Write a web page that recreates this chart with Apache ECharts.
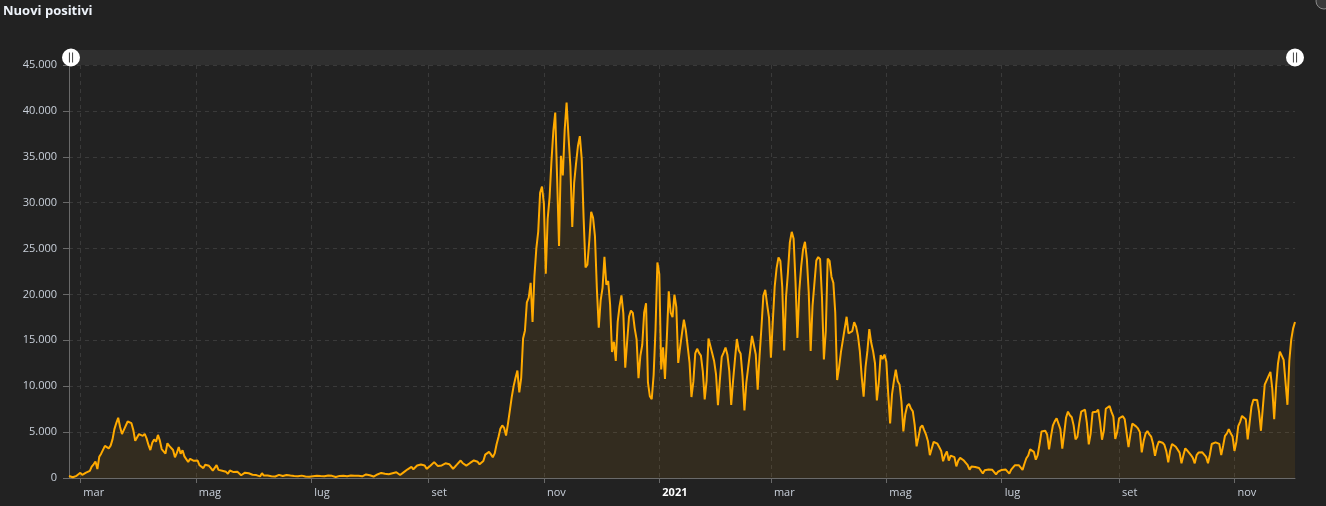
<!DOCTYPE html>
<html><head><meta charset="utf-8">
<script src="https://cdn.jsdelivr.net/npm/echarts@6/dist/echarts.min.js"></script>
<style>html,body{margin:0;padding:0;background:#222222;}#c{width:1326px;height:506px;}</style>
</head><body><div id="c"></div>
<script>
// Nuovi positivi giornalieri, dal 24 feb 2020 al 3 dic 2021 (one value per day)
const startDate = '2020-02-24';
const feb2020 = [221,93,78,250,238,240];
const mar2020 = [566,342,466,587,769,778,1247,1492,1797,977,2313,2651,2547,3497,3590,3233,3526,4207,5322,5986,6557,5560,4789,5249,5210,6153,5959,5974,5217,4050,4053];
const apr2020 = [4782,4668,4585,4805,4316,3599,3039,3836,4204,3951,4694,4092,3153,2972,2667,3786,3493,3491,3047,2256,2729,3370,2646,3021,2357,2324,1739,2091,2086,1872];
const may2020 = [1965,1900,1389,1221,1075,1444,1401,1327,1083,802,744,1402,888,992,789,875,675,451,813,665,642,652,669,531,300,397,584,593,516,416,355];
const jun2020 = [178,318,321,177,518,270,197,280,283,202,379,163,346,338,301,210,329,333,251,262,224,218,122,190,296,259,175,174,126,142];
const jul2020 = [187,201,223,235,192,208,138,193,229,276,188,234,169,114,162,230,233,249,219,190,129,282,306,252,275,255,170,181,289,386,379];
const aug2020 = [295,239,159,190,384,402,552,347,463,259,412,481,523,574,629,479,320,403,642,845,947,1071,1210,953,878,1367,1411,1462,1444,1365,996];
const sep2020 = [978,1326,1397,1733,1695,1297,1108,1370,1434,1597,1616,1501,1458,1008,1229,1452,1585,1907,1638,1587,1350,1392,1640,1786,1912,1869,1766,1494,1648,1851];
const oct2020 = [2548,2499,2844,2578,2257,2677,3678,4458,5372,5724,5456,4619,5901,7332,8804,10010,10925,11705,9338,10874,15199,16079,19143,19644,21273,17012,21994,24991,26831,31084,31758];
const nov2020 = [29907,22253,28244,30550,34505,37809,39811,32616,25271,35098,32961,37978,40902,37255,33979,27354,32191,34283,36176,37242,34767,28337,22930,23232,25853,29003,28352,26323,20648,16377];
const dec2020 = [19350,20709,24099,21052,21457,18887,13720,14842,12756,16999,18727,19903,17938,12030,14844,17572,18236,17992,16308,15104,10872,13318,14522,18040,19037,10407,8913,8585,11212,16202,23477];
const jan2021 = [22211,11831,14245,10800,15378,20331,18020,17533,19978,18627,12532,14242,15774,17246,16146,16310,12545,8824,10497,13571,14078,13633,13331,11629,8561,10593,15204,14372,13574,12715,11252];
const feb2021 = [7925,10630,13189,13659,14218,13442,11641,7970,10630,12956,15146,13908,13532,11068,7351,10386,12074,13762,15479,15370,13452,9630,13314,16424,19886,20499,18916,17455];
const mar2021 = [13114,17083,20884,22865,24036,23641,20765,13902,19749,22409,25673,26824,26062,21315,15267,20396,23059,24935,25735,23832,20159,13846,18765,21267,23696,24076,23839,19611,12916,16017,23904];
const apr2021 = [23649,21932,21261,18025,10680,12000,13708,15000,16300,17567,15746,15700,16000,16974,16500,15500,13800,11000,8864,12074,13844,16232,14761,13817,12500,8444,10404,13385,12965,13446];
const may2021 = [12680,9148,5948,9116,10585,11807,10554,10176,8292,5080,6946,7852,8085,7567,7264,5753,3455,4452,5506,5741,5218,4717,3995,2490,3224,3937,4147,3738,3351,2949,1820];
const jun2021 = [2483,2897,1896,2436,2557,2275,1273,1896,2199,2079,1901,1723,1390,907,1255,1400,1197,1147,1090,876,495,835,952,927,753,887,778,389,679,776];
const jul2021 = [882,794,932,808,480,907,1010,1394,1390,1400,1391,888,1553,2153,2455,3121,3127,2840,2000,2500,3700,5057,5143,5140,4743,3117,4522,5696,6171,6513,6599];
const aug2021 = [5321,3190,4845,6596,7230,6837,6619,5735,4197,4500,6000,7230,7400,7450,6000,3667,4852,7162,7260,7220,7450,6000,4168,5204,7548,7400,7840,7200,6700,4257,5000];
const sep2021 = [6503,6680,6735,6400,6200,3361,4720,5923,5800,5621,5400,5000,2800,4021,4830,5117,4750,4500,3700,2407,3377,3970,4000,3850,3600,2900,1710,2968,3712,3804];
const oct2021 = [3405,3312,2766,1612,2466,3235,3000,2800,2500,2200,1597,2494,2772,2668,2800,2600,2300,1597,2535,3702,3794,3882,3800,3725,2500,3500,4598,4866,5335,4878,4526];
const nov2021 = [2949,3924,5660,6124,6764,6794,6400,4197,6000,7800,8516,8548,8500,7200,5144,7698,10172,10645,10700,11555,9709,6404,9970,12448,13764,13686,12877,12932,7975,12764];
const dec2021 = [15085,16300,17000];

// month tick labels (Italian)
const monthLabels = ['gen','feb','mar','apr','mag','giu','lug','ago','set','ott','nov','dic'];
const yTicks = {min: 0, max: 45000, step: 5000};

const values = [].concat(feb2020, mar2020, apr2020, may2020, jun2020, jul2020, aug2020, sep2020, oct2020, nov2020, dec2020,
  jan2021, feb2021, mar2021, apr2021, may2021, jun2021, jul2021, aug2021, sep2021, oct2021, nov2021, dec2021);

const t0 = Date.parse(startDate + 'T00:00:00Z');
const dates = values.map((_, i) => new Date(t0 + i * 86400000).toISOString().slice(0, 10));

function isMajor(idx, val) {
  const m = +val.slice(5, 7), d = +val.slice(8, 10);
  return d === 1 && (m % 2 === 1);
}
function fmtThousands(v) { return String(v).replace(/\B(?=(\d{3})+(?!\d))/g, '.'); }

const chart = echarts.init(document.getElementById('c'), null, {renderer: 'canvas'});
const axisColor = '#c9d0da';
const gridColor = '#3a3a3a';

chart.setOption({
  backgroundColor: '#222222',
  animation: false,
  title: {
    text: 'Nuovi positivi', left: 3, top: 5, padding: 0,
    textStyle: {color: '#eef3fa', fontSize: 13, fontWeight: 'bold', fontFamily: 'Open Sans'}
  },
  grid: {left: 69, right: 31, top: 65, bottom: 28, containLabel: false},
  dataZoom: [{
    type: 'slider', xAxisIndex: 0, start: 0, end: 100,
    left: 69, right: 31, top: 50, height: 15,
    backgroundColor: '#2f2f2f', borderColor: 'transparent', fillerColor: 'rgba(0,0,0,0)',
    showDetail: false, showDataShadow: false, brushSelect: false, moveHandleSize: 0,
    dataBackground: {lineStyle: {opacity: 0}, areaStyle: {opacity: 0}},
    selectedDataBackground: {lineStyle: {opacity: 0}, areaStyle: {opacity: 0}},
    handleIcon: 'path://M0,-10 A10,10 0 1,1 0,10 A10,10 0 1,1 0,-10 Z M-2.3,-5.5 L-2.3,5.5 L-1.3,5.5 L-1.3,-5.5 Z M1.3,-5.5 L1.3,5.5 L2.3,5.5 L2.3,-5.5 Z',
    handleSize: 18,
    handleStyle: {color: '#ffffff', borderColor: '#ffffff', borderWidth: 0},
    emphasis: {handleStyle: {color: '#ffffff', borderColor: '#ffffff'}}
  }],
  xAxis: {
    type: 'category', data: dates, boundaryGap: false,
    axisLine: {lineStyle: {color: '#6a6a6a', width: 1}},
    axisTick: {show: true, interval: isMajor, length: 5, lineStyle: {color: '#6a6a6a'}},
    splitLine: {show: true, interval: isMajor, lineStyle: {color: gridColor, type: [4, 4]}},
    axisLabel: {
      interval: isMajor, align: 'left', margin: 9, padding: [0, 0, 0, 3],
      color: axisColor, fontSize: 11, fontFamily: 'Open Sans',
      formatter: function (val) {
        const m = +val.slice(5, 7);
        if (m === 1) return '{y|' + val.slice(0, 4) + '}';
        return monthLabels[m - 1];
      },
      rich: {y: {color: '#ffffff', fontWeight: 'bold', fontSize: 11, fontFamily: 'Open Sans'}}
    }
  },
  yAxis: {
    type: 'value', min: yTicks.min, max: yTicks.max, interval: yTicks.step,
    axisLine: {show: true, lineStyle: {color: '#6a6a6a'}},
    axisTick: {show: true, length: 6, lineStyle: {color: '#6a6a6a'}},
    splitLine: {show: true, lineStyle: {color: gridColor, type: [4, 4]}},
    axisLabel: {color: axisColor, fontSize: 11, fontFamily: 'Open Sans', margin: 12, formatter: fmtThousands}
  },
  series: [{
    type: 'line', name: 'Nuovi positivi', data: values,
    showSymbol: false, smooth: false,
    lineStyle: {color: '#ffaa00', width: 2},
    itemStyle: {color: '#ffaa00'},
    areaStyle: {color: 'rgba(255,170,0,0.11)'}
  }],
  graphic: [{
    type: 'circle', shape: {cx: 1324, cy: 1, r: 8},
    style: {fill: '#3a3a3a', stroke: '#8a8a8a', lineWidth: 1}
  }]
});
</script></body></html>
